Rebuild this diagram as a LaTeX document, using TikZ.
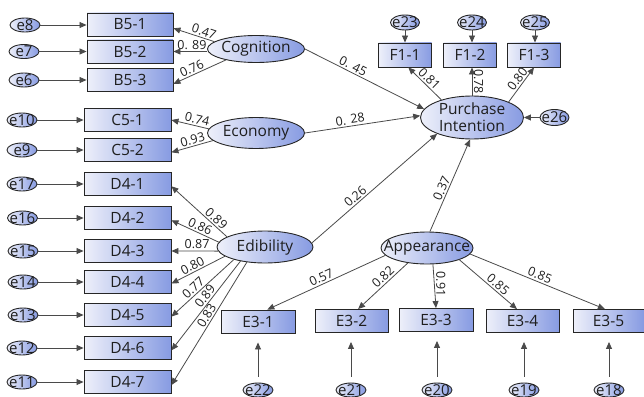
\documentclass[tikz,border=0pt]{standalone}
\usepackage{fontspec}
\setmainfont{Open Sans}
\usetikzlibrary{arrows.meta,shapes.geometric}
\definecolor{gl}{HTML}{EEF0FA}
\definecolor{gr}{HTML}{879BE2}
\definecolor{ln}{HTML}{4A4A4A}
\definecolor{bd}{HTML}{262626}
\definecolor{tx}{HTML}{1E1E1E}
\tikzset{
 obs/.style={draw=bd, line width=0.9pt, left color=gl, right color=gr, minimum height=23pt, inner sep=0pt, font=\fontsize{15.5}{15.5}\selectfont, text=tx},
 lat/.style={ellipse, draw=bd, line width=0.9pt, left color=gl, right color=gr, inner sep=0pt},
 ltx/.style={font=\fontsize{15.5}{17}\selectfont, text=tx, align=center, inner sep=0pt},
 err/.style={ellipse, draw=bd, line width=0.9pt, left color=gl, right color=gr, minimum width=30pt, minimum height=14pt, inner sep=0pt},
 etx/.style={font=\fontsize{15}{15}\selectfont, text=tx, inner sep=0pt},
 arr/.style={draw=ln, line width=0.8pt, -{Triangle[length=7pt,width=6pt]}},
 cf/.style={font=\fontsize{12.5}{12.5}\selectfont, text=tx, inner sep=1.5pt, sloped, above},
 cv/.style={font=\fontsize{12.5}{12.5}\selectfont, text=tx, inner sep=1.5pt, rotate=-90, anchor=south}
}
\begin{document}
\begin{tikzpicture}[x=1pt,y=-1pt]
\useasboundingbox (0,0) rectangle (644,396);
% observed indicators, left column
\node[obs, minimum width=86pt] (B51) at (130,24.5) {B5-1};
\node[obs, minimum width=86pt] (B52) at (130,51.5) {B5-2};
\node[obs, minimum width=86pt] (B53) at (130,80) {B5-3};
\node[obs, minimum width=87pt] (C51) at (127.5,120) {C5-1};
\node[obs, minimum width=87pt] (C52) at (127.5,150) {C5-2};
\node[obs, minimum width=87pt] (D41) at (127.5,184) {D4-1};
\node[obs, minimum width=87pt] (D42) at (127.5,218) {D4-2};
\node[obs, minimum width=87pt] (D43) at (127.5,251) {D4-3};
\node[obs, minimum width=87pt] (D44) at (127.5,282) {D4-4};
\node[obs, minimum width=87pt] (D45) at (127.5,315) {D4-5};
\node[obs, minimum width=87pt] (D46) at (127.5,348) {D4-6};
\node[obs, minimum width=87pt] (D47) at (127.5,382) {D4-7};
% errors, left
\node[err, label={[etx]center:e8}] (e8) at (25,25) {};
\node[err, label={[etx]center:e7}] (e7) at (24,51.5) {};
\node[err, label={[etx]center:e6}] (e6) at (24,80) {};
\node[err, label={[etx]center:e10}] (e10) at (22,120) {};
\node[err, label={[etx]center:e9}] (e9) at (22,150) {};
\node[err, label={[etx]center:e17}] (e17) at (22,184) {};
\node[err, label={[etx]center:e16}] (e16) at (22.5,218) {};
\node[err, label={[etx]center:e15}] (e15) at (23,251) {};
\node[err, label={[etx]center:e14}] (e14) at (23,282) {};
\node[err, label={[etx]center:e13}] (e13) at (23,315) {};
\node[err, label={[etx]center:e12}] (e12) at (22,348) {};
\node[err, label={[etx]center:e11}] (e11) at (22,382) {};
% F indicators
\node[obs, minimum width=53pt, minimum height=24pt] (F11) at (405,55) {F1-1};
\node[obs, minimum width=53pt, minimum height=24pt] (F12) at (470,55) {F1-2};
\node[obs, minimum width=53pt, minimum height=24pt] (F13) at (534,55) {F1-3};
\node[err, minimum width=29pt, minimum height=15pt, label={[etx]center:e23}] (e23) at (405,22.5) {};
\node[err, minimum width=29pt, minimum height=15pt, label={[etx]center:e24}] (e24) at (472,22.5) {};
\node[err, minimum width=29pt, minimum height=15pt, label={[etx]center:e25}] (e25) at (535,22.5) {};
% E indicators
\node[obs, minimum width=74pt] (E31) at (258,321.5) {E3-1};
\node[obs, minimum width=73pt] (E32) at (351.5,321) {E3-2};
\node[obs, minimum width=74pt] (E33) at (436,320) {E3-3};
\node[obs, minimum width=73pt] (E34) at (522.5,321) {E3-4};
\node[obs, minimum width=71pt] (E35) at (608.5,321) {E3-5};
\node[err, label={[etx]center:e22}] (e22) at (258,390) {};
\node[err, label={[etx]center:e21}] (e21) at (351,390) {};
\node[err, label={[etx]center:e20}] (e20) at (437,390) {};
\node[err, label={[etx]center:e19}] (e19) at (524,390) {};
\node[err, label={[etx]center:e18}] (e18) at (609,390) {};
% latent variables
\node[lat, minimum width=97pt, minimum height=27pt, label={[ltx]center:Cognition}] (Cog) at (256,49) {};
\node[lat, minimum width=97pt, minimum height=31pt, label={[ltx]center:Economy}] (Econ) at (256,133) {};
\node[lat, minimum width=96pt, minimum height=32pt, label={[ltx]center:Edibility}] (Edib) at (265,247) {};
\node[lat, minimum width=92pt, minimum height=32pt, label={[ltx]center:Appearance}] (App) at (427,248) {};
\node[lat, minimum width=103pt, minimum height=43pt, label={[ltx]center:Purchase\\Intention}] (PI) at (472,117.5) {};
\node[err, minimum width=29pt, minimum height=16pt, label={[etx]center:e26}] (e26) at (554.5,117.5) {};
% error arrows
\foreach \e/\o in {e8/B51,e7/B52,e6/B53,e10/C51,e9/C52,e17/D41,e16/D42,e15/D43,e14/D44,e13/D45,e12/D46,e11/D47}
  \draw[arr] (\e) -- (\e -| \o.west);
\foreach \e/\o in {e23/F11,e24/F12,e25/F13}
  \draw[arr] (\e) -- (\e |- \o.north);
\foreach \e/\o in {e22/E31,e21/E32,e20/E33,e19/E34,e18/E35}
  \draw[arr, shorten <=6pt, shorten >=9pt] (\e) -- (\e |- \o.south);
\draw[arr] (e26) -- (PI);
% Cognition
\draw[arr] (Cog.170) -- node[cf,pos=0.3]{0.47} (B51.-5);
\draw[arr] (Cog.west |- B52.east) -- node[cf,pos=0.45]{0. 89} (B52.east);
\draw[arr] (Cog.200) -- node[cf,pos=0.6]{0.76} (B53.-5);
\draw[arr] (Cog.east) -- node[cf,pos=0.38]{0. 45} (PI.170);
% Economy
\draw[arr] (Econ.175) -- node[cf,pos=0.35]{0.74} (C51.east);
\draw[arr] (Econ.190) -- node[cf,pos=0.45]{0.93} (C52.-3);
\draw[arr] (Econ.east) -- node[cf,pos=0.4]{0. 28} (PI.178);
% Edibility
\draw[arr] (Edib.165) -- node[cf,pos=0.27]{0.89} (D41.-3);
\draw[arr] (Edib.174) -- node[cf,pos=0.45]{0.86} (D42.-3);
\draw[arr] (Edib.185) -- node[cf,pos=0.45]{0.87} (D43.east);
\draw[arr] (Edib.193) -- node[cf,pos=0.55]{0.80} (D44.-2);
\draw[arr] (Edib.202) -- node[cf,pos=0.58]{0.77} (D45.-2);
\draw[arr] (Edib.210) -- node[cf,pos=0.44]{0.89} (D46.-3);
\draw[arr] (Edib.220) -- node[cf,pos=0.46]{0.83} (D47.-4);
\draw[arr] (Edib.5) -- node[cf,pos=0.38]{0.26} (PI.205);
% Appearance
\draw[arr] (App.80) -- node[cf,pos=0.44]{0.37} (PI.265);
\draw[arr] (App.190) -- node[cf,pos=0.52]{0.57} (E31.52);
\draw[arr] (App.218) -- node[cf,pos=0.41]{0.82} (E32.61);
\draw[arr] (App.290) -- node[cv,pos=0.45]{0.91} (E33.north);
\draw[arr] (App.-20) -- node[cf,pos=0.6]{0.85} (E34.115);
\draw[arr] (App.-8) -- node[cf,pos=0.5]{0.85} (E35.107);
% Purchase intention indicators
\draw[arr] (PI.150) -- node[cf,pos=0.5]{0.81} (F11.-75);
\draw[arr] (PI.north) -- node[cv,pos=0.5]{0.78} (PI.north |- F12.south);
\draw[arr] (PI.23) -- node[cf,pos=0.55]{0.80} (F13.south);
\end{tikzpicture}
\end{document}
